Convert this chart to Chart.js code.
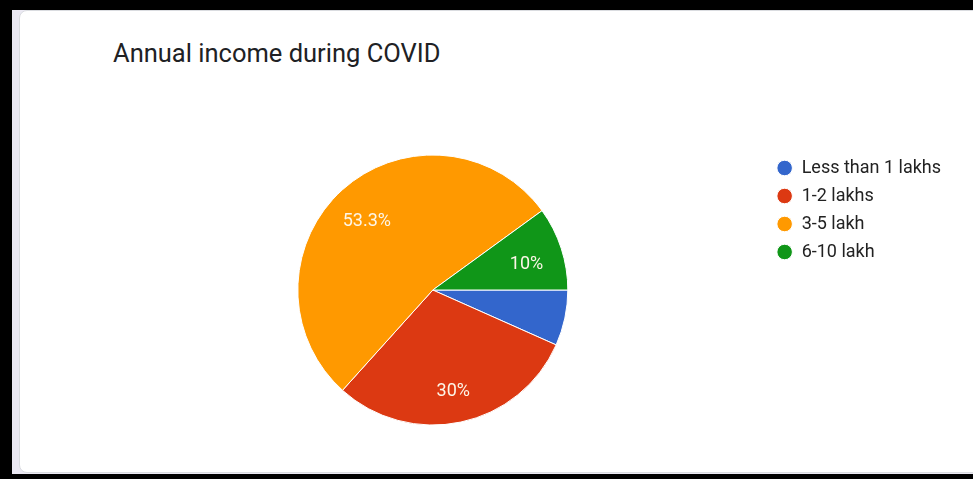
<!DOCTYPE html>
<html>
<head>
<meta charset="utf-8">
<script src="https://cdn.jsdelivr.net/npm/chart.js@4/dist/chart.umd.min.js"></script>
<style>
    html, body { margin: 0; padding: 0; width: 973px; height: 479px; overflow: hidden; background: #000; }
    #page { position: absolute; left: 12px; top: 10px; width: 961px; height: 464px; background: #ebe9f3; }
    #card { position: absolute; left: 19px; top: 10px; width: 962px; height: 463px; background: #fff;
            border: 1px solid #dadce0; border-radius: 8px; box-sizing: border-box; }
    #title { position: absolute; left: 113px; top: 38px; font: 25.5px Roboto, sans-serif; color: #202124; white-space: nowrap; }
    #chart { position: absolute; left: 0; top: 0; }
</style>
</head>
<body>
<div id="page"></div>
<div id="card"></div>
<div id="title">Annual income during COVID</div>
<canvas id="chart" width="973" height="479"></canvas>
<script>
// responses per income group
const incomeGroups = ['Less than 1 lakhs', '1-2 lakhs', '3-5 lakh', '6-10 lakh'];
const counts = [2, 9, 16, 3];
const sliceColors = ['#3366cc', '#dc3912', '#ff9900', '#109618'];

function formatPct(value) {
    return Number(value.toFixed(1)) + '%';
}

// white percentage text inside the bigger slices
const sliceLabels = {
    id: 'sliceLabels',
    afterDatasetsDraw(chart) {
        const ctx = chart.ctx;
        const meta = chart.getDatasetMeta(0);
        const total = counts.reduce((a, b) => a + b, 0);
        ctx.save();
        ctx.font = '18px Roboto, sans-serif';
        ctx.fillStyle = '#fdf6e8';
        ctx.textAlign = 'center';
        ctx.textBaseline = 'middle';
        meta.data.forEach((arc, i) => {
            const pct = counts[i] / total * 100;
            if (pct < 8) {
                return; // too thin for a label
            }
            const p = arc.getProps(['x', 'y', 'startAngle', 'endAngle', 'outerRadius']);
            const mid = (p.startAngle + p.endAngle) / 2;
            const r = p.outerRadius * 0.73;
            // text sits a little below the radial point, like the original
            ctx.fillText(formatPct(pct), p.x + Math.cos(mid) * r, p.y + Math.sin(mid) * r + 5);
        });
        ctx.restore();
    }
};

const ctx = document.getElementById('chart').getContext('2d');
new Chart(ctx, {
    type: 'pie',
    data: {
        labels: incomeGroups,
        datasets: [{
            data: counts,
            backgroundColor: sliceColors,
            borderColor: '#ffffff',
            borderWidth: 1,
            radius: 135
        }]
    },
    options: {
        responsive: false,
        animation: false,
        rotation: 90,
        layout: {
            padding: { left: 99, right: 22, top: 149, bottom: 48 }
        },
        plugins: {
            tooltip: { enabled: false },
            legend: {
                position: 'right',
                align: 'start',
                maxWidth: 186,
                labels: {
                    usePointStyle: true,
                    pointStyle: 'circle',
                    boxWidth: 16,
                    boxHeight: 11,
                    padding: 10,
                    color: '#222222',
                    font: { family: 'Roboto', size: 18 }
                }
            }
        }
    },
    plugins: [sliceLabels]
});
</script>
</body>
</html>
